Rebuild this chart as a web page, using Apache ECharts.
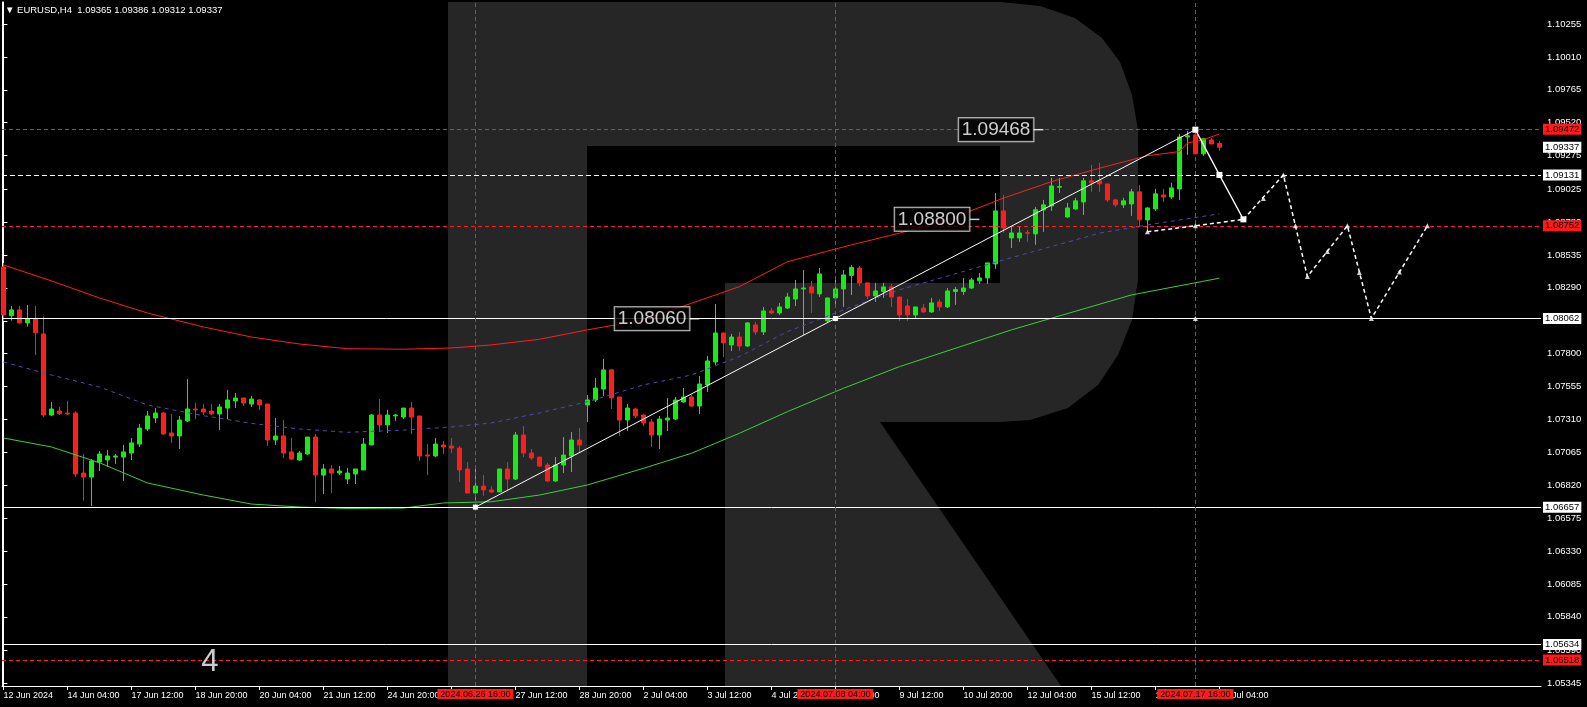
<!DOCTYPE html>
<html><head><meta charset="utf-8">
<script src="https://cdn.jsdelivr.net/npm/echarts@6.0.0/dist/echarts.min.js"></script>
<style>html,body{margin:0;padding:0;background:#000;}#chart{width:1587px;height:707px;}</style>
</head><body><div id="chart"></div>
<script>
// ---------- DATA ----------
const symbolName = 'EURUSD,H4';
const barOpen = [
1.08446,1.08083,1.08126,1.08029,1.08058,1.07947,1.07343,1.07373,1.07358,1.07358,
1.06911,1.06881,1.06993,1.07008,1.07030,1.07030,1.07060,1.07127,1.07239,1.07321,
1.07358,1.07209,1.07187,1.07299,1.07388,1.07388,1.07373,1.07351,1.07395,1.07448,
1.07470,1.07425,1.07455,1.07425,1.07157,1.07187,1.07068,1.07008,1.07053,1.07179,
1.06896,1.06941,1.06911,1.06866,1.06904,1.06934,1.07120,1.07343,1.07269,1.07336,
1.07328,1.07395,1.07336,1.07045,1.07038,1.07120,1.07112,1.07097,1.06941,1.06762,
1.06814,1.06785,1.06770,1.06941,1.06866,1.07194,1.07060,1.07030,1.06971,1.06852,
1.06971,1.07038,1.07157,1.07418,1.07455,1.07537,1.07679,1.07477,1.07306,1.07388,
1.07343,1.07291,1.07194,1.07306,1.07313,1.07440,1.07477,1.07410,1.07567,1.07738,
1.07954,1.07865,1.07924,1.07857,1.08014,1.07962,1.08118,1.08103,1.08140,1.08207,
1.08282,1.08297,1.08245,1.08044,1.08215,1.08282,1.08383,1.08438,1.08327,1.08230,
1.08263,1.08297,1.08222,1.08155,1.08088,1.08140,1.08111,1.08185,1.08148,1.08263,
1.08263,1.08289,1.08342,1.08364,1.08468,1.08863,1.08662,1.08662,1.08701,1.08692,
1.08871,1.08900,1.09040,1.08818,1.08878,1.08930,1.09087,1.09087,1.09064,1.08945,
1.08908,1.08915,1.09005,1.08796,1.08878,1.08982,1.08967,1.09027,1.09414,1.09429,
1.09288,1.09392,1.09365];
const barClose = [
1.08088,1.08126,1.08029,1.08058,1.07956,1.07343,1.07388,1.07353,1.07351,1.06904,
1.06881,1.07001,1.07053,1.07038,1.07038,1.07068,1.07135,1.07246,1.07336,1.07358,
1.07202,1.07187,1.07306,1.07388,1.07381,1.07366,1.07351,1.07403,1.07455,1.07470,
1.07433,1.07462,1.07418,1.07157,1.07187,1.07060,1.07015,1.07060,1.07179,1.06896,
1.06941,1.06911,1.06926,1.06911,1.06941,1.07127,1.07343,1.07269,1.07343,1.07343,
1.07395,1.07328,1.07038,1.07038,1.07127,1.07105,1.07097,1.06934,1.06762,1.06814,
1.06785,1.06770,1.06941,1.06866,1.07194,1.07060,1.07023,1.06963,1.06852,1.06971,
1.07045,1.07157,1.07120,1.07455,1.07544,1.07679,1.07470,1.07306,1.07395,1.07336,
1.07284,1.07194,1.07313,1.07321,1.07455,1.07477,1.07410,1.07574,1.07746,1.07954,
1.07880,1.07924,1.07857,1.08029,1.07962,1.08118,1.08103,1.08148,1.08222,1.08282,
1.08289,1.08252,1.08394,1.08215,1.08282,1.08386,1.08442,1.08327,1.08230,1.08267,
1.08297,1.08222,1.08088,1.08088,1.08148,1.08111,1.08178,1.08148,1.08267,1.08278,
1.08289,1.08349,1.08364,1.08476,1.08863,1.08736,1.08699,1.08699,1.08697,1.08871,
1.08908,1.09049,1.09044,1.08885,1.08938,1.09087,1.09072,1.09064,1.08945,1.08908,
1.08938,1.09005,1.08796,1.08885,1.08990,1.08967,1.09034,1.09414,1.09422,1.09288,
1.09400,1.09362,1.09337];
const barHigh = [
1.08476,1.08155,1.08155,1.08163,1.08155,1.08076,1.07440,1.07403,1.07448,1.07371,
1.07053,1.07015,1.07075,1.07083,1.07053,1.07120,1.07172,1.07276,1.07373,1.07395,
1.07366,1.07351,1.07336,1.07611,1.07433,1.07425,1.07425,1.07425,1.07530,1.07507,
1.07470,1.07485,1.07462,1.07425,1.07321,1.07306,1.07172,1.07075,1.07179,1.07202,
1.06978,1.06971,1.06963,1.06948,1.06941,1.07172,1.07351,1.07462,1.07381,1.07351,
1.07395,1.07440,1.07336,1.07127,1.07172,1.07150,1.07172,1.07112,1.06993,1.06941,
1.06896,1.06814,1.06941,1.06993,1.07217,1.07261,1.07090,1.07030,1.06986,1.07030,
1.07179,1.07217,1.07246,1.07492,1.07619,1.07761,1.07686,1.07477,1.07425,1.07395,
1.07351,1.07313,1.07336,1.07470,1.07477,1.07544,1.07492,1.07634,1.07783,1.08170,
1.07954,1.07947,1.07962,1.08036,1.08036,1.08148,1.08140,1.08178,1.08252,1.08349,
1.08423,1.08342,1.08438,1.08215,1.08349,1.08423,1.08461,1.08453,1.08327,1.08327,
1.08327,1.08319,1.08222,1.08207,1.08148,1.08170,1.08215,1.08207,1.08289,1.08297,
1.08364,1.08364,1.08401,1.08476,1.08997,1.08982,1.08744,1.08744,1.08722,1.08893,
1.08945,1.09109,1.09109,1.08923,1.08960,1.09109,1.09206,1.09221,1.09064,1.08952,
1.08960,1.09027,1.09057,1.08893,1.09027,1.09027,1.09072,1.09437,1.09459,1.09468,
1.09407,1.09407,1.09386];
const barLow = [
1.08044,1.08046,1.08023,1.08001,1.07790,1.07326,1.07336,1.07343,1.07343,1.06881,
1.06705,1.06665,1.06926,1.06956,1.06978,1.06852,1.07008,1.07105,1.07224,1.07284,
1.07194,1.07135,1.07090,1.07291,1.07313,1.07343,1.07343,1.07232,1.07313,1.07395,
1.07410,1.07403,1.07381,1.07112,1.07120,1.07023,1.07008,1.07001,1.07045,1.06695,
1.06755,1.06762,1.06896,1.06829,1.06829,1.06934,1.07120,1.07217,1.07209,1.07299,
1.07313,1.07202,1.07001,1.06896,1.07030,1.07053,1.07060,1.06844,1.06762,1.06657,
1.06740,1.06762,1.06770,1.06785,1.06859,1.07030,1.07008,1.06956,1.06844,1.06844,
1.06911,1.06919,1.07068,1.07291,1.07440,1.07485,1.07388,1.07187,1.07224,1.07321,
1.07261,1.07105,1.07090,1.07224,1.07306,1.07433,1.07403,1.07351,1.07515,1.07716,
1.07775,1.07820,1.07820,1.07850,1.07939,1.07939,1.08096,1.08088,1.08133,1.08155,
1.07939,1.08103,1.08222,1.08029,1.08140,1.08148,1.08237,1.08304,1.08207,1.08185,
1.08215,1.08148,1.08044,1.08044,1.08058,1.08103,1.08103,1.08118,1.08140,1.08163,
1.08237,1.08282,1.08319,1.08319,1.08431,1.08699,1.08587,1.08632,1.08632,1.08610,
1.08707,1.08863,1.08997,1.08811,1.08871,1.08833,1.09005,1.09005,1.08930,1.08893,
1.08885,1.08826,1.08744,1.08707,1.08863,1.08930,1.08952,1.08945,1.09280,1.09288,
1.09273,1.09358,1.09312];

// x-axis ticks (bar index -> label)
const xTickIndex = [0,8,16,24,32,40,48,56,64,72,80,88,96,104,112,120,128,136,144,152];
const xTickLabels = ['12 Jun 2024','14 Jun 04:00','17 Jun 12:00','18 Jun 20:00','20 Jun 04:00','21 Jun 12:00',
  '24 Jun 20:00','26 Jun 04:00','27 Jun 12:00','28 Jun 20:00','2 Jul 04:00','3 Jul 12:00','4 Jul 20:00',
  '8 Jul 04:00','9 Jul 12:00','10 Jul 20:00','12 Jul 04:00','15 Jul 12:00','16 Jul 20:00','18 Jul 04:00'];
// y-axis ticks
const yTickValues = [1.10255,1.10010,1.09765,1.09520,1.09275,1.09025,1.08780,1.08535,1.08290,1.08045,
  1.07800,1.07555,1.07310,1.07065,1.06820,1.06575,1.06330,1.06085,1.05840,1.05590,1.05345];

// indicator bands (sampled)
const upperIdx = [0,6,12,18,25,31,37,43,50,56,61,67,73,80,86,92,98,106,112,118,125,131,137,143,147,148,150,152];
const upperVal = [1.08461,1.08342,1.08215,1.08103,1.07999,1.07924,1.07872,1.07837,1.07833,1.07842,1.07865,1.07907,
  1.07977,1.08051,1.08175,1.08299,1.08485,1.08610,1.08697,1.08796,1.08958,1.09081,1.09181,1.09274,1.09305,1.09368,1.09393,1.09436];
const midIdx = [0,6,12,18,25,31,37,43,50,56,61,67,73,80,86,92,98,106,112,125,137,143,152];
const midVal = [1.07738,1.07641,1.07552,1.07418,1.07338,1.07281,1.07239,1.07214,1.07231,1.07254,1.07284,1.07358,
  1.07442,1.07567,1.07641,1.07778,1.07964,1.08148,1.08275,1.08498,1.08697,1.08759,1.08841];
const lowerIdx = [0,6,12,18,25,31,37,43,50,55,61,67,73,80,86,92,98,105,112,126,141,152];
const lowerVal = [1.07172,1.07105,1.06988,1.06837,1.06747,1.06680,1.06658,1.06647,1.06650,1.06688,1.06697,1.06747,
  1.06822,1.06946,1.07058,1.07207,1.07368,1.07542,1.07703,1.07977,1.08237,1.08362];

// analysis drawings
const trendIdx = [59,104,149];
const trendVal = [1.06657,1.08062,1.09468];
const supportIdx = [143,149,155];
const supportVal = [1.08707,1.08752,1.08800];
const forecastSolidIdx = [149,152,155];
const forecastSolidVal = [1.09468,1.09131,1.08800];
const forecastDashIdx = [155,160,163,168,171,178];
const forecastDashVal = [1.08800,1.09131,1.08374,1.08752,1.08062,1.08752];
const forecastMarkIdx = [143,149,157.5,160,161.5,163,165.5,168,169.5,171,174.5,178,149];
const forecastMarkVal = [1.08707,1.08752,1.08956,1.09131,1.08752,1.08374,1.08561,1.08752,1.08404,1.08062,1.08409,1.08752,1.08062];
const levelWhiteSolid = [1.08062,1.06657,1.05634];
const levelWhiteDash = [1.09131];
const levelRed = [1.09472,1.08752,1.05518];
const bidPrice = 1.09337;
const vLineIdx = [59,104,149];
const vLineLabels = ['2024.06.26 16:00','2024.07.08 04:00','2024.07.17 16:00'];
const priceLabelIdx = [87,122,130];
const priceLabelVal = [1.08060,1.08800,1.09468];
const waveLabelIdx = [25.8];
const waveLabelVal = [1.05503];
const waveLabelText = ['4'];

// ---------- CHART ----------
const FONT = "'Liberation Sans', Arial, sans-serif";
const GREEN = '#18ea18', RED = '#ff1e1e', WM = '#262626';
const X_MIN = -0.175, X_MAX = 192.2;
const Y_MIN = 1.05325, Y_MAX = 1.104188;
const pair = (xs, ys) => xs.map((x, i) => [x, ys[i]]);
const last = barOpen.length - 1;

const candleData = barOpen.map((o, i) => [i, o, barClose[i], barLow[i], barHigh[i]]);

function tag(v, bg, color) {
  return {show: true, position: 'end', distance: 2, formatter: v.toFixed(5), color: color || '#000',
    backgroundColor: bg, padding: [1, 2, 0, 2], fontSize: 9.5, fontFamily: FONT};
}
const hLines = [];
levelWhiteSolid.forEach(v => hLines.push({yAxis: v, lineStyle: {color: '#fff', width: 1, type: 'solid'}, label: tag(v, '#fff')}));
levelWhiteDash.forEach(v => hLines.push({yAxis: v, lineStyle: {color: '#fff', width: 1, type: [5, 3]}, label: tag(v, '#fff')}));
levelRed.forEach(v => hLines.push({yAxis: v, lineStyle: {color: RED, width: 1, type: [4, 3]}, label: tag(v, '#ff1a1a')}));
hLines.push({yAxis: bidPrice, lineStyle: {width: 0, color: 'rgba(0,0,0,0)'}, label: tag(bidPrice, '#fff')});
vLineIdx.forEach((x, i) => hLines.push({xAxis: x, lineStyle: {color: RED, width: 1, type: [4, 3]},
  label: {show: true, position: 'start', distance: 3, formatter: vLineLabels[i], color: '#000', backgroundColor: '#ff1a1a',
    padding: [1, 3, 0, 3], fontSize: 9, fontFamily: FONT}}));

const chart = echarts.init(document.getElementById('chart'), null, {renderer: 'canvas'});
chart.setOption({
  backgroundColor: '#000',
  animation: false,
  textStyle: {fontFamily: FONT},
  title: {
    text: '\u25BC ' + symbolName + '  ' + [barOpen[last], barHigh[last], barLow[last], barClose[last]].map(v => v.toFixed(5)).join(' '),
    left: 5, top: 5, padding: 0,
    textStyle: {color: '#fff', fontSize: 9.5, fontWeight: 'normal', fontFamily: FONT}
  },
  graphic: {elements: [
    {type: 'rect', z: -10, silent: true, shape: {x: 448, y: 2, width: 139, height: 684}, style: {fill: WM}},
    {type: 'polygon', z: -10, silent: true, shape: {points: [[587,2],[1000,2],[1040,6],[1075,18],[1102,38],[1120,62],[1132,95],[1138,130],
      [1138,280],[1132,320],[1118,355],[1098,385],[1068,408],[1030,420],[1000,422],[725,422],[725,283],[1000,283],[1000,146],[587,146]]}, style: {fill: WM}},
    {type: 'polygon', z: -10, silent: true, shape: {points: [[725,422],[880,422],[1061,686],[725,686]]}, style: {fill: WM}}
  ]},
  grid: {left: 2, right: 46, top: 2, bottom: 21, containLabel: false, outerBoundsMode: 'none'},
  xAxis: {
    type: 'value', min: X_MIN, max: X_MAX,
    axisLine: {show: true, lineStyle: {color: '#fff', width: 1}},
    axisTick: {show: true, customValues: xTickIndex, length: 4, lineStyle: {color: '#fff'}},
    axisLabel: {show: true, customValues: xTickIndex, color: '#fff', fontSize: 9, align: 'left', margin: 5,
      formatter: v => { const k = xTickIndex.indexOf(Math.round(v)); return k >= 0 ? xTickLabels[k] : ''; }},
    splitLine: {show: false}
  },
  yAxis: [{
    type: 'value', position: 'right', min: Y_MIN, max: Y_MAX,
    axisLine: {show: true, lineStyle: {color: '#fff', width: 1}},
    axisTick: {show: true, customValues: yTickValues, length: 4, lineStyle: {color: '#fff'}},
    axisLabel: {show: true, customValues: yTickValues, color: '#fff', fontSize: 9.5, margin: 6, formatter: v => v.toFixed(5)},
    splitLine: {show: false}
  }, {
    type: 'value', position: 'left', min: Y_MIN, max: Y_MAX,
    axisLine: {show: true, lineStyle: {color: '#fff', width: 1}},
    axisTick: {show: false}, axisLabel: {show: false}, splitLine: {show: false}
  }],
  series: [
    {type: 'candlestick', name: 'EURUSD', data: candleData, dimensions: ['idx','open','close','lowest','highest'],
      encode: {x: 0, y: [1, 2, 3, 4]}, barWidth: 5, z: 2, silent: true,
      itemStyle: {color: GREEN, color0: RED, borderColor: GREEN, borderColor0: RED, borderColorDoji: GREEN, borderWidth: 1}},
    {type: 'line', name: 'lower', data: pair(lowerIdx, lowerVal), symbol: 'none', z: 3, silent: true,
      lineStyle: {color: '#3ccf3c', width: 1}},
    {type: 'line', name: 'middle', data: pair(midIdx, midVal), symbol: 'none', z: 3, silent: true,
      lineStyle: {color: '#4c4cb0', width: 1, type: [4, 4]}},
    {type: 'line', name: 'upper', data: pair(upperIdx, upperVal), symbol: 'none', z: 3, silent: true,
      lineStyle: {color: RED, width: 1}},
    {type: 'line', name: 'levels', data: [], z: 4, silent: true, clip: false,
      markLine: {symbol: ['none', 'none'], precision: 5, silent: true, animation: false, data: hLines}},
    {type: 'line', name: 'trend', data: pair(trendIdx, trendVal), z: 6, silent: true,
      symbol: 'rect', symbolSize: 5, itemStyle: {color: '#fff'}, lineStyle: {color: '#fff', width: 1}},
    {type: 'line', name: 'support', data: pair(supportIdx, supportVal), z: 6, silent: true, symbol: 'none',
      lineStyle: {color: '#fff', width: 1.5, type: [4, 3]}},
    {type: 'line', name: 'forecastSolid', data: pair(forecastSolidIdx, forecastSolidVal), z: 6, silent: true,
      symbol: 'rect', symbolSize: 6, itemStyle: {color: '#fff'}, lineStyle: {color: '#fff', width: 1.3}},
    {type: 'line', name: 'forecastDash', data: pair(forecastDashIdx, forecastDashVal), z: 6, silent: true, symbol: 'none',
      lineStyle: {color: '#fff', width: 1.5, type: [4, 3]}},
    {type: 'scatter', name: 'marks', data: pair(forecastMarkIdx, forecastMarkVal), z: 7, silent: true,
      symbol: 'triangle', symbolSize: 5, itemStyle: {color: '#fff'}},
    {type: 'scatter', name: 'priceLabels', data: pair(priceLabelIdx, priceLabelVal), z: 8, silent: true,
      symbol: 'rect', symbolSize: [10, 1.5], symbolOffset: [-5, 0], itemStyle: {color: '#fff'},
      label: {show: true, position: 'left', distance: 0, formatter: p => p.value[1].toFixed(5), fontSize: 19, fontFamily: FONT,
        color: '#fff', backgroundColor: '#000', borderColor: '#fff', borderWidth: 1, padding: [3, 3, 1, 3], lineHeight: 19}},
    {type: 'scatter', name: 'waveLabels', data: pair(waveLabelIdx, waveLabelVal), z: 8, silent: true,
      symbol: 'rect', symbolSize: 2, itemStyle: {color: 'rgba(0,0,0,0)'},
      label: {show: true, position: 'inside', formatter: p => waveLabelText[p.dataIndex], fontSize: 31, color: '#fff', fontFamily: FONT}}
  ]
});
</script>
</body></html>
